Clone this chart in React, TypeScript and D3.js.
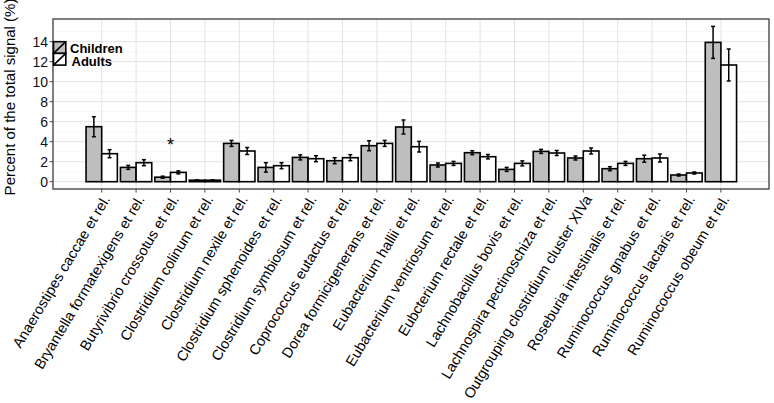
import React from "react";
import * as d3 from "d3";

const categories = [
  "Anaerostipes caccae et rel.",
  "Bryantella formatexigens et rel.",
  "Butyrivibrio crossotus et rel.",
  "Clostridium colinum et rel.",
  "Clostridium nexile et rel.",
  "Clostridium sphenoides et rel.",
  "Clostridium symbiosum et rel.",
  "Coprococcus eutactus et rel.",
  "Dorea formicigenerans et rel.",
  "Eubacterium hallii et rel.",
  "Eubacterium ventriosum et rel.",
  "Eubcterium rectale et rel.",
  "Lachnobacillus bovis et rel.",
  "Lachnospira pectinoschiza et rel.",
  "Outgrouping clostridium cluster XIVa",
  "Roseburia intestinalis et rel.",
  "Ruminococcus gnabus et rel.",
  "Ruminococcus lactaris et rel.",
  "Ruminococcus obeum et rel.",
];
const childrenMean = [5.5, 1.43, 0.45, 0.15, 3.83, 1.43, 2.43, 2.1, 3.6, 5.47, 1.67, 2.9, 1.23, 3.03, 2.37, 1.3, 2.3, 0.67, 13.93];
const childrenErr = [1.0, 0.2, 0.1, 0.03, 0.3, 0.47, 0.25, 0.3, 0.5, 0.7, 0.2, 0.2, 0.2, 0.2, 0.2, 0.2, 0.35, 0.1, 1.6];
const adultsMean = [2.8, 1.9, 0.93, 0.15, 3.07, 1.6, 2.3, 2.4, 3.83, 3.5, 1.83, 2.5, 1.83, 2.87, 3.07, 1.83, 2.37, 0.87, 11.67];
const adultsErr = [0.4, 0.3, 0.15, 0.03, 0.35, 0.3, 0.3, 0.3, 0.3, 0.53, 0.2, 0.22, 0.25, 0.25, 0.3, 0.2, 0.4, 0.1, 1.6];
const yTicks = [0, 2, 4, 6, 8, 10, 12, 14];
const yMinor = [1, 3, 5, 7, 9, 11, 13, 15];
const seriesNames = ["Children", "Adults"];
const seriesFill = ["#bebebe", "#ffffff"];
const significant = ["Butyrivibrio crossotus et rel."];

const W = 774, H = 403;
const panel = { left: 53, right: 769, top: 19, bottom: 189 };
const FONT = "'Liberation Sans', Arial, Helvetica, sans-serif";

export default function App() {
  const x = d3.scalePoint<string>().domain(categories).range([101.7, 720.9]);
  const y = d3.scaleLinear().domain([-0.73, 16.27]).range([panel.bottom, panel.top]);
  const step = x.step();
  const barW = step * 0.455;
  const series = [
    { mean: childrenMean, err: childrenErr, off: -barW },
    { mean: adultsMean, err: adultsErr, off: 0 },
  ];
  const cap = 2;
  return (
    <svg width={W} height={H} style={{ display: "block", position: "absolute", left: 0, top: 0 }} fontFamily={FONT}>
      <rect x={0} y={0} width={W} height={H} fill="#fff" />
      {/* grid */}
      {yMinor.map((v) => (
        <line key={"mn" + v} x1={panel.left} x2={panel.right} y1={y(v)} y2={y(v)} stroke="#f2f2f2" strokeWidth={0.6} />
      ))}
      {yTicks.map((v) => (
        <line key={"mj" + v} x1={panel.left} x2={panel.right} y1={y(v)} y2={y(v)} stroke="#e3e3e3" strokeWidth={1} />
      ))}
      {categories.map((c) => (
        <line key={"vg" + c} x1={x(c)} x2={x(c)} y1={panel.top} y2={panel.bottom} stroke="#e3e3e3" strokeWidth={1} />
      ))}
      {/* bars */}
      {series.map((s, si) =>
        categories.map((c, i) => (
          <rect
            key={"b" + si + "-" + i}
            x={(x(c) as number) + s.off}
            y={y(s.mean[i])}
            width={barW}
            height={y(0) - y(s.mean[i])}
            fill={seriesFill[si]}
            stroke="#000"
            strokeWidth={1.6}
          />
        ))
      )}
      {/* error bars */}
      {series.map((s, si) =>
        categories.map((c, i) => {
          const cx = (x(c) as number) + s.off + barW / 2;
          const y1 = y(s.mean[i] + s.err[i]);
          const y2 = y(s.mean[i] - s.err[i]);
          return (
            <g key={"e" + si + "-" + i} stroke="#000" strokeWidth={1.5}>
              <line x1={cx} x2={cx} y1={y1} y2={y2} />
              <line x1={cx - cap} x2={cx + cap} y1={y1} y2={y1} />
              <line x1={cx - cap} x2={cx + cap} y1={y2} y2={y2} />
            </g>
          );
        })
      )}
      {/* significance */}
      {significant.map((c) => (
        <text key={"s" + c} x={x(c)} y={151} textAnchor="middle" fontSize={18} fill="#000">*</text>
      ))}
      {/* panel border */}
      <rect x={panel.left} y={panel.top} width={panel.right - panel.left} height={panel.bottom - panel.top} fill="none" stroke="#555" strokeWidth={1.5} />
      {/* y axis */}
      {yTicks.map((v) => (
        <g key={"yt" + v}>
          <line x1={panel.left - 3.5} x2={panel.left} y1={y(v)} y2={y(v)} stroke="#444" strokeWidth={1} />
          <text x={panel.left - 5} y={y(v)} dy="0.36em" textAnchor="end" fontSize={14} fill="#111">{v}</text>
        </g>
      ))}
      <text transform={`translate(15,${(panel.top + panel.bottom) / 2 - 7}) rotate(-90)`} textAnchor="middle" fontSize={15} fill="#000">
        Percent of the total signal (%)
      </text>
      {/* x axis */}
      {categories.map((c) => (
        <g key={"xt" + c}>
          <line x1={x(c)} x2={x(c)} y1={panel.bottom} y2={panel.bottom + 3.5} stroke="#444" strokeWidth={1} />
          <text transform={`translate(${(x(c) as number) + 9},${panel.bottom + 10}) rotate(-59)`} textAnchor="end" fontSize={14.5} fill="#000">
            {c}
          </text>
        </g>
      ))}
      {/* legend */}
      {seriesNames.map((n, i) => {
        const ky = 41.7 + i * 11.7;
        return (
          <g key={"lg" + n}>
            <rect x={53.5} y={ky} width={12.3} height={11.7} fill={seriesFill[i]} stroke="#000" strokeWidth={1.6} />
            <line x1={53.5} y1={ky + 11.7} x2={65.8} y2={ky} stroke="#000" strokeWidth={1.6} />
            <text x={70 + i * 1.5} y={52.5 + i * 13.8} fontSize={13} fontWeight="bold" fill="#000">{n}</text>
          </g>
        );
      })}
    </svg>
  );
}
